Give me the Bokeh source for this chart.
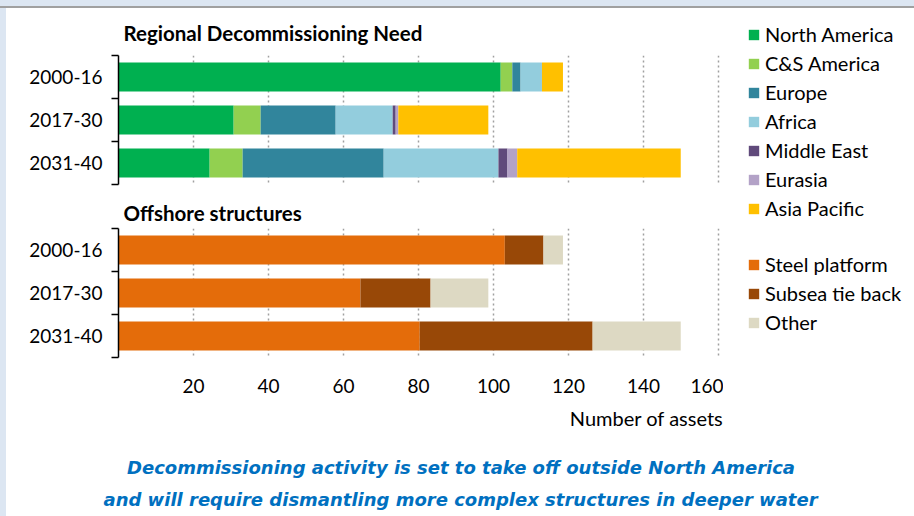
from bokeh.plotting import figure
from bokeh.models import Range1d, FixedTicker, Legend, LegendItem, ColumnDataSource, Title
from bokeh.layouts import column, row
from bokeh.embed import file_html
from bokeh.resources import INLINE

# ---------------- data ----------------
periods = ["2000-16", "2017-30", "2031-40"]

regions = ["North America", "C&S America", "Europe", "Africa",
           "Middle East", "Eurasia", "Asia Pacific"]
north_america = [101.9, 30.7, 24.3]
cs_america = [3.1, 7.2, 8.8]
europe = [2.2, 20.0, 37.6]
africa = [5.7, 15.2, 30.6]
middle_east = [0.0, 0.8, 2.4]
eurasia = [0.0, 0.7, 2.6]
asia_pacific = [5.6, 24.0, 43.6]

structures = ["Steel platform", "Subsea tie back", "Other"]
steel_platform = [103.0, 64.5, 80.3]
subsea_tie_back = [10.3, 18.7, 46.1]
other = [5.2, 15.4, 23.5]

x_ticks = [20, 40, 60, 80, 100, 120, 140, 160]

title_top = "Regional Decommissioning Need"
title_bottom = "Offshore structures"
x_label = "Number of assets"
caption_lines = ["Decommissioning activity is set to take off outside North America",
                 "and will require dismantling more complex structures in deeper water"]

# ---------------- styles ----------------
region_colors = ["#00b050", "#92d050", "#31859c", "#93cddd", "#604a7b", "#b3a2c7", "#ffc000"]
structure_colors = ["#e46c0a", "#984807", "#ddd9c3"]
FONT = "Lato"
FS = "19px"


def make_title(text, standoff, align="left", offset=5, bold=True, size="20.5px",
               font=FONT, color="#000000", style=None):
    return Title(text=text, text_font=font, text_font_size=size,
                 text_font_style=style or ("bold" if bold else "normal"),
                 text_color=color, align=align, offset=offset, standoff=standoff)


def section(names, series, colors, height, b_top, b_bottom):
    pos = [i + 0.5 for i in range(len(periods))]
    p = figure(width=715, height=height, x_range=Range1d(0, 161.3),
               y_range=Range1d(len(periods), 0), output_backend="svg",
               toolbar_location=None, min_border_left=110, min_border_right=0,
               min_border_top=b_top, min_border_bottom=b_bottom, title=None)
    data = {"pos": pos}
    data.update(dict(zip(names, series)))
    src = ColumnDataSource(data)
    p.hbar_stack(names, y="pos", height=0.67, fill_color=colors,
                 line_color=None, source=src)

    p.outline_line_color = None
    p.ygrid.visible = False
    p.xgrid.ticker = FixedTicker(ticks=x_ticks)
    p.xgrid.grid_line_color = "#a0a0a0"
    p.xgrid.grid_line_dash = "2 3"
    p.xgrid.grid_line_width = 1.5

    ya = p.yaxis[0]
    ya.ticker = FixedTicker(ticks=pos, minor_ticks=list(range(len(periods) + 1)))
    ya.major_label_overrides = {v: lab for v, lab in zip(pos, periods)}
    ya.major_tick_in = 0
    ya.major_tick_out = 0
    ya.minor_tick_in = 0
    ya.minor_tick_out = 7
    ya.minor_tick_line_color = "#000000"
    ya.minor_tick_line_width = 1.5
    ya.axis_line_color = "#000000"
    ya.axis_line_width = 1.5
    ya.major_label_standoff = 9
    ya.major_label_text_font = FONT
    ya.major_label_text_font_size = FS
    ya.major_label_text_color = "#000000"
    return p, src


# top section: canvas page y 8..194, frame 55..184
p1, src1 = section(regions,
                   [north_america, cs_america, europe, africa, middle_east, eurasia,
                    asia_pacific],
                   region_colors, 186, 47, 10)
p1.xaxis.visible = False
p1.add_layout(make_title(title_top, 21), "above")

# bottom section: canvas page y 194..441, frame 228..357
p2, src2 = section(structures, [steel_platform, subsea_tie_back, other],
                   structure_colors, 247, 34, 84)
p2.add_layout(make_title(title_bottom, 8), "above")
xa = p2.xaxis[0]
xa.ticker = FixedTicker(ticks=x_ticks)
xa.axis_line_color = None
xa.major_tick_line_color = None
xa.minor_tick_line_color = None
xa.major_tick_in = 0
xa.major_tick_out = 0
xa.major_label_standoff = 21
xa.major_label_text_font = FONT
xa.major_label_text_font_size = FS
xa.major_label_text_color = "#000000"
p2.add_layout(make_title(x_label, 16, align="right", offset=0, bold=False, size="20px"),
              "below")

# legend panel: page x 723..914, y 8..441
pl = figure(width=191, height=433, x_range=Range1d(0, 1), y_range=Range1d(0, 1),
            x_axis_location=None, y_axis_location=None, min_border=0,
            min_border_left=0, min_border_right=0, min_border_top=0, min_border_bottom=0,
            output_backend="svg", toolbar_location=None, title=None)
pl.outline_line_color = None
pl.grid.visible = False


def legend_block(names, colors, src, vy):
    # hidden copies of the stacked bars, used only as legend swatches
    rs = pl.hbar_stack(names, y="pos", height=0.67, fill_color=colors,
                       line_color=None, source=src, visible=False)
    items = [LegendItem(label=n, renderers=[r]) for n, r in zip(names, rs)]
    lg = Legend(items=items, location=(24, vy), label_text_font=FONT,
                label_text_font_size="20px", label_text_color="#000000",
                glyph_width=13, glyph_height=13, label_height=24, spacing=5,
                padding=0, margin=0, border_line_color=None,
                background_fill_alpha=0, label_standoff=5,
                inactive_fill_alpha=0)
    pl.add_layout(lg)


legend_block(regions, region_colors, src1, 221)
legend_block(structures, structure_colors, src2, 107)

# caption: page y 441..516
p3 = figure(width=906, height=75, x_range=Range1d(0, 1), y_range=Range1d(0, 1),
            x_axis_location=None, y_axis_location=None, min_border_left=110,
            min_border_right=191, min_border_top=0, min_border_bottom=0,
            output_backend="svg", toolbar_location=None, title=None)
p3.outline_line_color = None
p3.grid.visible = False
cap_kw = dict(align="left", size="18px", font="DejaVu Sans", color="#0070c0",
              style="bold italic")
p3.add_layout(make_title(caption_lines[0], 4, offset=8.5, **cap_kw), "below")
p3.add_layout(make_title(caption_lines[1], 14, offset=-15, **cap_kw), "below")

layout = column(row(column(p1, p2, spacing=0), pl, spacing=0), p3, spacing=0)

html = file_html(layout, INLINE)
css = ("<style>body{margin:8px;background:"
       "linear-gradient(#dce6f2 0 6px,#a0a0a0 6px 8px,rgba(0,0,0,0) 8px),"
       "linear-gradient(to right,#dce6f2 0 6px,#ffffff 6px);}</style>")
html = html.replace("</head>", css + "</head>", 1)
open("out.html", "w").write(html)
